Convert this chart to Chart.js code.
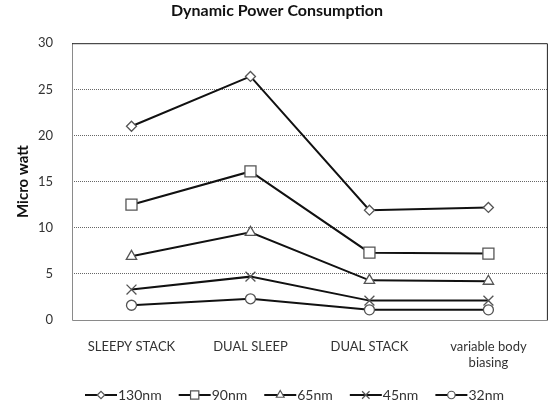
<!DOCTYPE html>
<html>
<head>
<meta charset="utf-8">
<script src="https://cdn.jsdelivr.net/npm/chart.js@4"></script>
<style>
  html, body { margin: 0; padding: 0; background: #fff; }
  #wrap { width: 557px; height: 409px; }
</style>
</head>
<body>
<div id="wrap"><canvas id="chart" width="557" height="409"></canvas></div>
<script>
// ── Data ──────────────────────────────────────────────────────────
const categories = ['SLEEPY STACK', 'DUAL SLEEP', 'DUAL STACK', ['variable body', 'biasing']];
const nm130 = [21.0, 26.4, 11.9, 12.2];
const nm90 = [12.5, 16.1, 7.3, 7.2];
const nm65 = [6.9, 9.5, 4.3, 4.2];
const nm45 = [3.3, 4.7, 2.1, 2.1];
const nm32 = [1.6, 2.3, 1.1, 1.1];
const seriesNames = ['130nm', '90nm', '65nm', '45nm', '32nm'];
const yTicks = [0, 5, 10, 15, 20, 25, 30];

const FONT = 'Lato, "Open Sans", sans-serif';
const markers = [
    { style: 'rectRot', r: 5 },
    { style: 'rect', r: 7.8 },
    { style: 'triangle', r: 6 },
    { style: 'crossRot', r: 7 },
    { style: 'circle', r: 5 }
];

function makeSet(label, data, i) {
    return {
        label, data,
        borderColor: '#111', borderWidth: 2,
        pointStyle: markers[i].style, pointRadius: markers[i].r, pointHoverRadius: markers[i].r,
        pointBorderColor: '#555', pointBackgroundColor: '#fff', pointBorderWidth: 1.3,
        tension: 0
    };
}

// ── Plot frame (Excel style) ───────────────────────────────────────
const framePlugin = {
    id: 'frame',
    afterDatasetsDraw(chart) {
        const { ctx, chartArea: a } = chart;
        ctx.save();
        ctx.lineWidth = 1;
        ctx.strokeStyle = '#8a8a8a';
        ctx.beginPath();
        ctx.moveTo(a.left + 0.5, a.top); ctx.lineTo(a.left + 0.5, a.bottom + 0.5);
        ctx.lineTo(a.right, a.bottom + 0.5);
        ctx.stroke();
        ctx.strokeStyle = '#222';
        ctx.beginPath();
        ctx.moveTo(a.left, a.top + 0.5); ctx.lineTo(a.right - 0.5, a.top + 0.5);
        ctx.lineTo(a.right - 0.5, a.bottom);
        ctx.stroke();
        ctx.restore();
    }
};

// ── Legend: line + marker + text ──────────────────────────────────
const lineLegend = {
    id: 'lineLegend',
    afterDraw(chart) {
        const { ctx } = chart;
        const y = chart.chartArea.bottom + 75;
        const lineW = 32, gapText = 1, gapItem = 17;
        ctx.save();
        ctx.font = '14px ' + FONT;
        let x = chart.chartArea.left + 13;
        chart.data.datasets.forEach((ds) => {
            ctx.strokeStyle = '#111';
            ctx.lineWidth = 2;
            ctx.beginPath();
            ctx.moveTo(x, y); ctx.lineTo(x + lineW, y);
            ctx.stroke();
            ctx.strokeStyle = '#555';
            ctx.fillStyle = '#fff';
            ctx.lineWidth = 1.2;
            Chart.helpers.drawPoint(ctx, { pointStyle: ds.pointStyle, radius: ds.pointRadius * 0.75, borderWidth: 1.2 }, x + lineW / 2, y);
            ctx.fillStyle = '#333';
            ctx.textBaseline = 'middle';
            ctx.textAlign = 'left';
            ctx.fillText(ds.label, x + lineW + gapText, y);
            x += lineW + gapText + ctx.measureText(ds.label).width + gapItem;
        });
        ctx.restore();
    }
};

new Chart(document.getElementById('chart'), {
    type: 'line',
    data: {
        labels: categories,
        datasets: [nm130, nm90, nm65, nm45, nm32].map((d, i) => makeSet(seriesNames[i], d, i))
    },
    options: {
        responsive: false,
        animation: false,
        layout: { padding: { left: 0, right: 3, top: 0, bottom: 0 } },
        plugins: {
            legend: { display: false },
            tooltip: { enabled: false },
            title: {
                display: true, text: 'Dynamic Power Consumption', color: '#111',
                font: { family: FONT, size: 16, weight: 'bold' },
                padding: { top: 1, bottom: 23 }
            }
        },
        scales: {
            x: {
                offset: true,
                grid: { display: false, drawTicks: false },
                border: { display: false },
                ticks: { color: '#333', font: { family: FONT, size: 13 }, padding: 19, maxRotation: 0, autoSkip: false },
                afterFit(s) { s.height = 89; }
            },
            y: {
                min: 0, max: 30,
                afterBuildTicks(s) { s.ticks = yTicks.map(v => ({ value: v })); },
                grid: {
                    drawTicks: false,
                    color: c => (c.tick.value === 0 || c.tick.value === 30) ? 'rgba(0,0,0,0)' : '#666'
                },
                border: { display: false, dash: [1, 1] },
                ticks: { color: '#333', font: { family: FONT, size: 13 }, padding: 19 },
                title: {
                    display: true, text: 'Micro watt', color: '#111',
                    font: { family: FONT, size: 15, weight: 'bold' },
                    padding: { top: 14, bottom: 0 }
                },
                afterFit(s) { s.width = 72; }
            }
        }
    },
    plugins: [framePlugin, lineLegend]
});
</script>
</body>
</html>
